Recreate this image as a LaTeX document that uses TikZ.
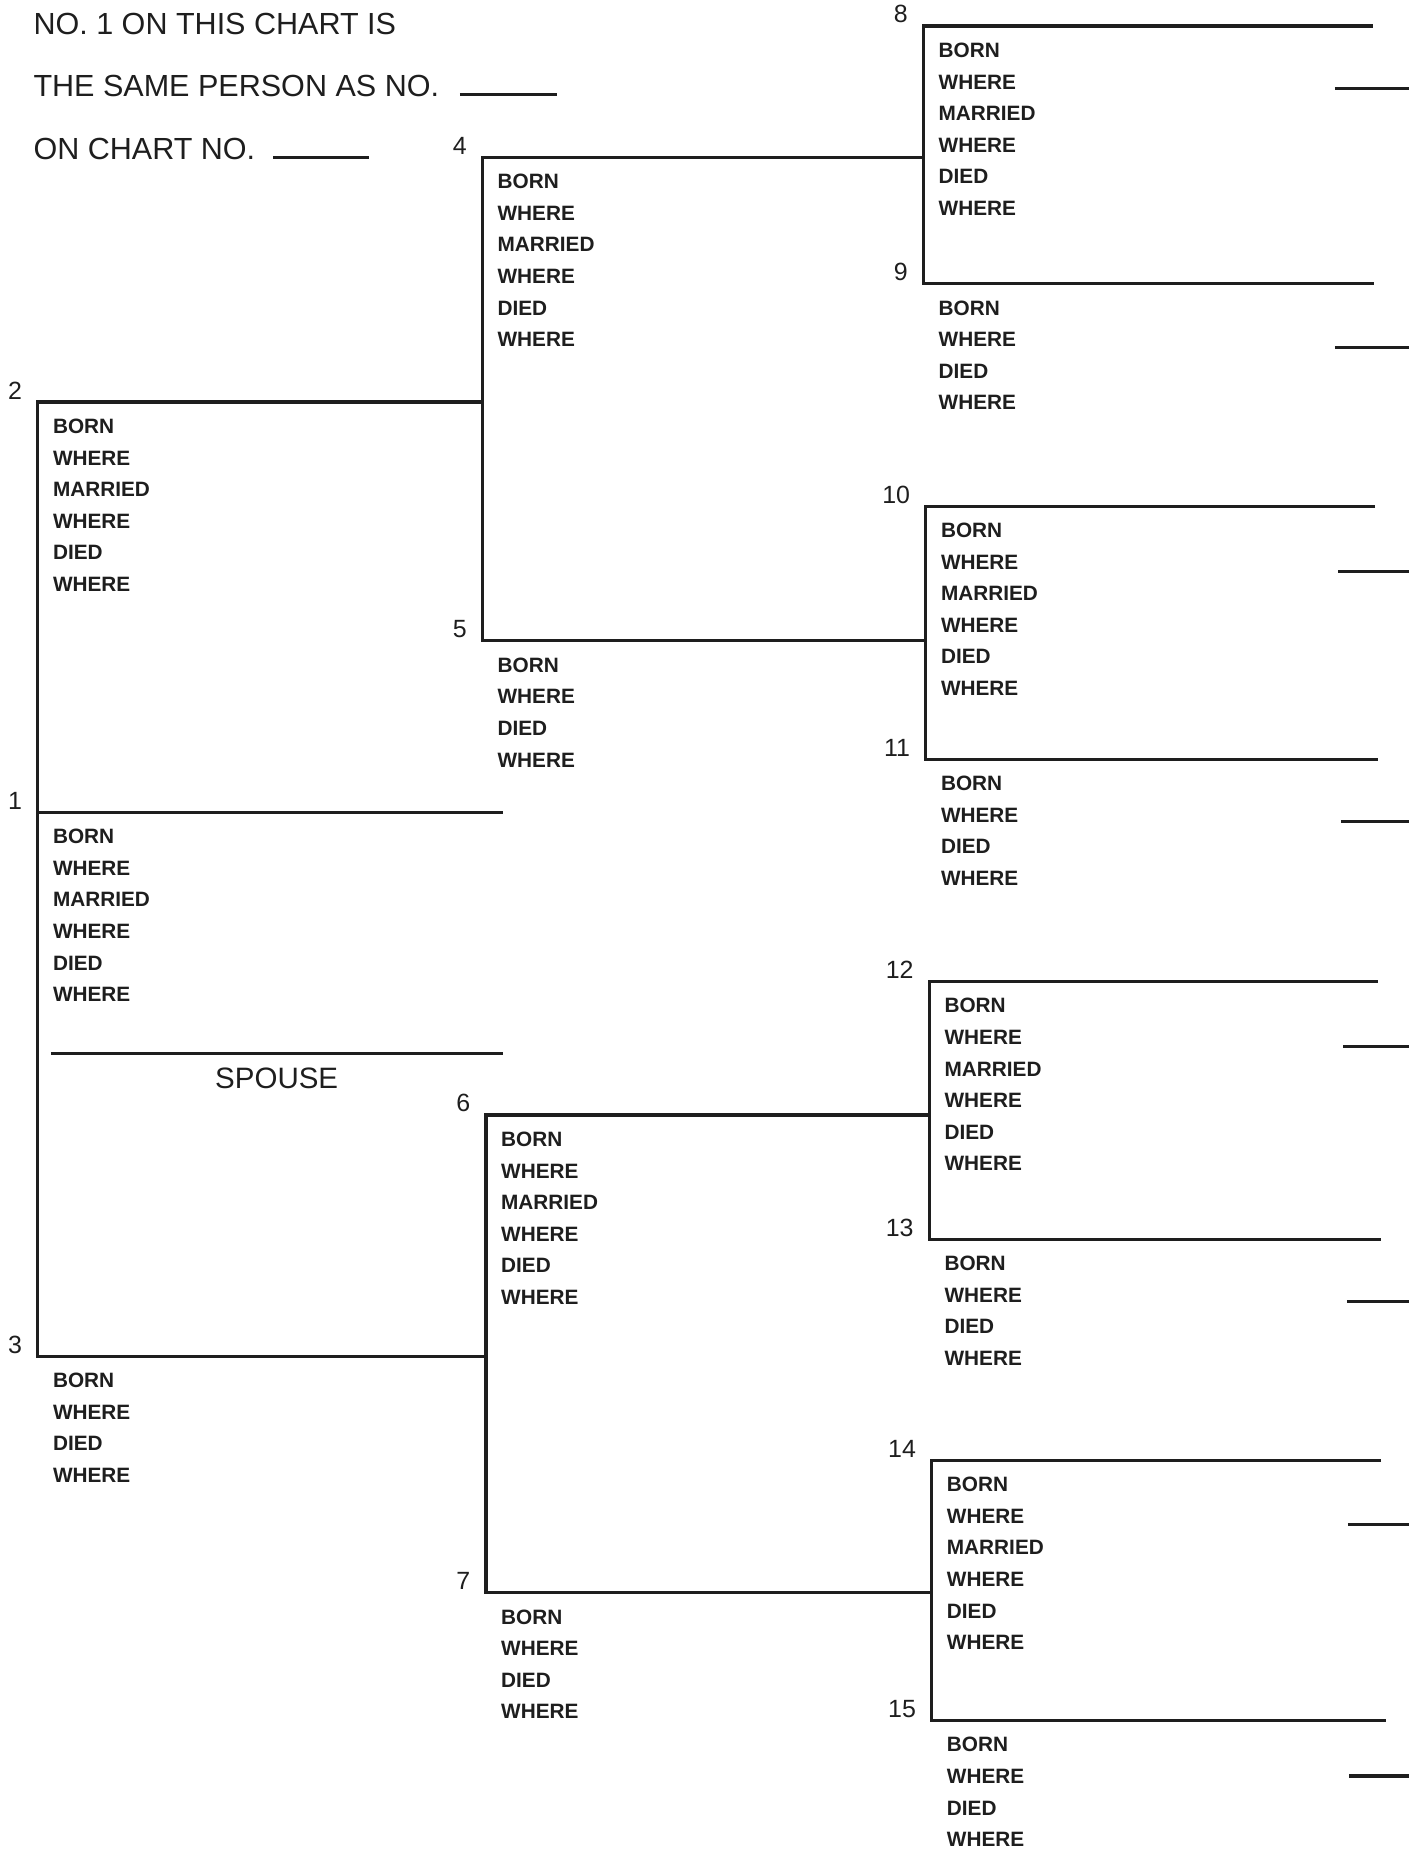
\documentclass[tikz,border=0pt]{standalone}
\usepackage{fontspec}
\setmainfont{Liberation Sans}
\usepackage{tikz}
\usetikzlibrary{positioning, calc}
\definecolor{ink}{RGB}{30,30,30}
\newcommand{\longentry}{BORN\\WHERE\\MARRIED\\WHERE\\DIED\\WHERE}
\newcommand{\shortentry}{BORN\\WHERE\\DIED\\WHERE}

\begin{document}
\begin{tikzpicture}[x=0.02cm, y=-0.02cm, rule/.style={draw=ink, line width=1.5pt}, num/.style={text=ink, font=\fontsize{12}{12}\selectfont, inner sep=0}, info/.style={text=ink, font=\fontsize{10}{15.2}\selectfont\bfseries, align=left, inner sep=0}, head/.style={text=ink, font=\fontsize{14.7}{14.7}\selectfont, inner sep=0}]
\useasboundingbox (0,0) rectangle (1192,1568);
\foreach \n/\xa/\xb/\y/\kind in {1/32/425/687/long, 2/32/408/340/long, 3/32/411/1147/short, 4/408/781/133/long, 5/408/783/542/short, 6/411/786/943/long, 7/411/788/1347/short, 8/781/1161/22/long, 9/781/1162/240/short, 10/783/1163/428/long, 11/783/1165/642/short, 12/786/1165/830/long, 13/786/1168/1048/short, 14/788/1168/1235/long, 15/788/1172/1455/short} {
	\coordinate (left \n) at (\xa, \y);
	\coordinate (right \n) at (\xb, \y);
	\node[num, above left=0.04cm and 0.26cm of left \n] (num \n) {\n};
	\node[info, below right=0.28cm and 0.25cm of left \n] (info \n) {\csname\kind entry\endcsname};
}
\foreach \f/\m in {2/3, 4/5, 6/7, 8/9, 10/11, 12/13, 14/15}
	\draw[rule] (right \f) -- (left \f) -- (left \m) -- (right \m);
\draw[rule] (left 1) -- (right 1);
\foreach \n/\xr/\yr in {8/1129/75, 9/1129/294, 10/1132/483, 11/1134/695, 12/1136/885, 13/1139/1101, 14/1140/1289, 15/1141/1502}
	\draw[rule] (\xr, \yr) coordinate (next \n) -- (1192, \yr) coordinate (edge \n);
\coordinate (spouse left) at (43, 891);
\coordinate (spouse right) at (425, 891);
\coordinate (spouse mid) at ($(spouse left)!0.5!(spouse right)$);
\draw[rule] (spouse left) -- (spouse right);
\node[head, font=\fontsize{14.2}{14.2}\selectfont, below=0.24cm of spouse mid] (spouse) {SPOUSE};
\node[head, anchor=base west] (head 1) at (28, 29) {NO. 1 ON THIS CHART IS};
\node[head, anchor=base west] (head 2) at (28, 82) {THE SAME PERSON AS NO.};
\node[head, anchor=base west] (head 3) at (28, 135) {ON CHART NO.};
\draw[rule] (389, 80) coordinate (blank 1) -- (471, 80) coordinate (blank 2);
\draw[rule] (231, 133) coordinate (blank 3) -- (312, 133) coordinate (blank 4);
\end{tikzpicture}
\end{document}
